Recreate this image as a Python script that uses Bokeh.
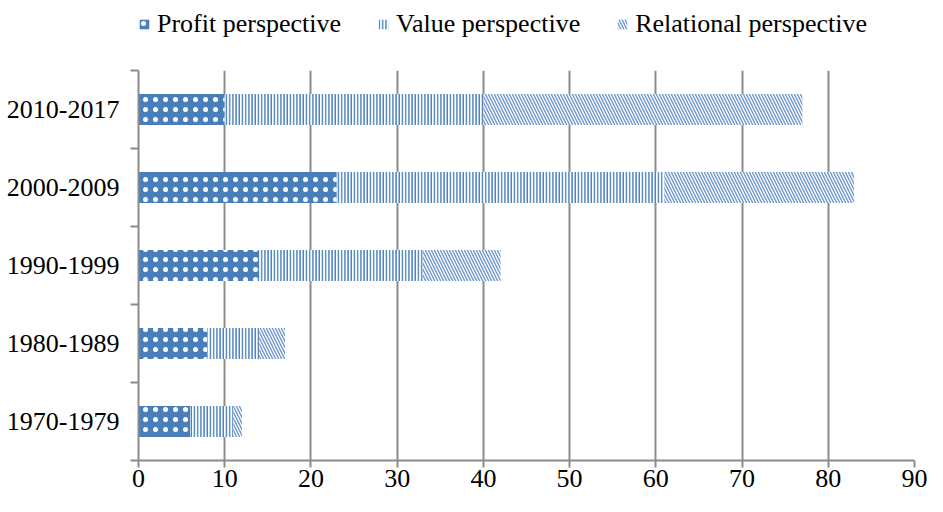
from bokeh.plotting import figure
from bokeh.layouts import column
from bokeh.models import ColumnDataSource, Legend, LegendItem, FixedTicker, Range1d
from bokeh.embed import file_html
from bokeh.resources import INLINE

periods = ["1970-1979", "1980-1989", "1990-1999", "2000-2009", "2010-2017"]
profit = [6, 8, 14, 23, 10]
value_p = [5, 6, 19, 38, 30]
relational = [1, 3, 9, 22, 37]
series_names = ["Profit perspective", "Value perspective", "Relational perspective"]
x_ticks = [0, 10, 20, 30, 40, 50, 60, 70, 80, 90]

BLUE = "#4A7EBB"
DIAG = "#6E95CC"
FONT = "Liberation Serif"
GRAY = "#8C8C8C"

styles = [
    dict(fill_color=BLUE, hatch_pattern="dot", hatch_color="white", hatch_scale=10, hatch_weight=0.8),
    dict(fill_color="white", hatch_pattern="vertical_line", hatch_color=BLUE, hatch_scale=3.2, hatch_weight=1.6),
    dict(fill_color="white", hatch_pattern="left_diagonal_line", hatch_color=DIAG, hatch_scale=6, hatch_weight=1.4),
]

ypos = [i + 0.5 for i in range(len(periods))]
p_end = profit
v_end = [a + b for a, b in zip(profit, value_p)]
r_end = [a + b for a, b in zip(v_end, relational)]

src = ColumnDataSource(dict(y=ypos, z=[0] * len(periods), p=p_end, v=v_end, r=r_end))

W = 927
LEFT = 138
RIGHT = 13

def draw_bars(fig):
    a = fig.hbar(y="y", left="z", right="p", height=0.4, source=src, line_color=None, **styles[0])
    b = fig.hbar(y="y", left="p", right="v", height=0.4, source=src, line_color=None, **styles[1])
    c = fig.hbar(y="y", left="v", right="r", height=0.4, source=src, line_color=None, **styles[2])
    return [a, b, c]

# ---- main chart ----
p = figure(width=W, height=432, output_backend="svg", toolbar_location=None,
           x_range=Range1d(0, 90), y_range=Range1d(0, len(periods)),
           min_border_left=LEFT, min_border_right=RIGHT, min_border_top=6, min_border_bottom=36)
p.outline_line_color = None
draw_bars(p)

p.xaxis.ticker = FixedTicker(ticks=x_ticks)
p.xaxis.axis_line_color = GRAY
p.xaxis.axis_line_width = 2
p.xaxis.major_tick_line_color = GRAY
p.xaxis.major_tick_line_width = 2
p.xaxis.major_tick_out = 7
p.xaxis.major_tick_in = 0
p.xaxis.minor_tick_line_color = None
p.xaxis.major_label_text_font = FONT
p.xaxis.major_label_text_font_size = "26px"
p.xaxis.major_label_text_color = "black"
p.xaxis.major_label_standoff = 2

p.yaxis.ticker = FixedTicker(ticks=ypos, minor_ticks=list(range(len(periods) + 1)))
p.yaxis.major_label_overrides = {y: lab for y, lab in zip(ypos, periods)}
p.yaxis.axis_line_color = GRAY
p.yaxis.axis_line_width = 2
p.yaxis.major_tick_line_color = None
p.yaxis.major_tick_out = 0
p.yaxis.major_tick_in = 0
p.yaxis.minor_tick_line_color = GRAY
p.yaxis.minor_tick_line_width = 2
p.yaxis.minor_tick_out = 8
p.yaxis.minor_tick_in = 0
p.yaxis.major_label_text_font = FONT
p.yaxis.major_label_text_font_size = "26px"
p.yaxis.major_label_text_color = "black"
p.yaxis.major_label_standoff = 11

p.xgrid.ticker = FixedTicker(ticks=x_ticks[1:])
p.xgrid.grid_line_color = GRAY
p.xgrid.grid_line_width = 2
p.ygrid.grid_line_color = None

# ---- legend strip (bars drawn outside its visible range; only the legend shows) ----
lg = figure(width=W, height=64, output_backend="svg", toolbar_location=None,
            x_range=Range1d(1000, 1001), y_range=Range1d(1000, 1001),
            x_axis_location=None, y_axis_location=None,
            min_border_left=LEFT, min_border_right=RIGHT, min_border_top=0, min_border_bottom=0)
lg.outline_line_color = None
lg.grid.grid_line_color = None
rs = draw_bars(lg)
items = [LegendItem(label=name, renderers=[r]) for name, r in zip(series_names, rs)]

legend = Legend(items=items, orientation="horizontal", location=(0, 25),
                label_text_font=FONT, label_text_font_size="26px", label_text_color="black",
                glyph_width=12, glyph_height=12, label_standoff=7, spacing=36,
                border_line_color=None, background_fill_alpha=0,
                padding=0, margin=0)
lg.add_layout(legend, "center")

layout = column(lg, p, spacing=0)
open("out.html", "w").write(file_html(layout, INLINE))
